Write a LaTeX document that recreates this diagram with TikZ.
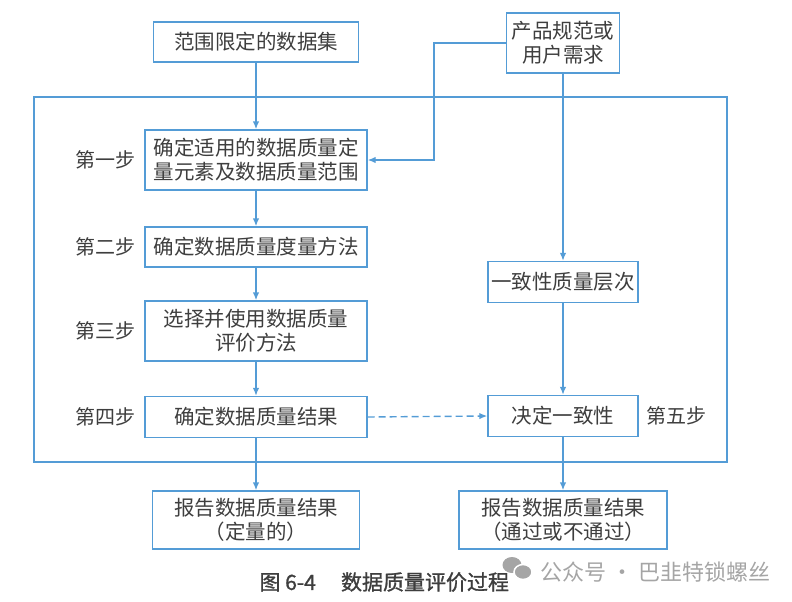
\documentclass[tikz,border=0pt]{standalone}
\usepackage{fontspec}
\newfontfamily\cjk{Noto Sans CJK SC}
\newfontfamily\cjkbold[FakeBold=1.2]{Noto Sans CJK SC}
\usepackage{tikz}
\usetikzlibrary{arrows.meta}
\definecolor{lineblue}{RGB}{84,156,214}
\definecolor{inkgray}{RGB}{62,62,62}
\definecolor{markgray}{RGB}{165,165,165}

\begin{document}
\begin{tikzpicture}[x=1pt,y=-1pt,
  box/.style={draw=lineblue,line width=1.4pt,fill=white,inner sep=0pt,align=center,text=inkgray,font=\cjk\fontsize{20.5}{24}\selectfont},
  steplabel/.style={text=inkgray,font=\cjk\fontsize{20}{24}\selectfont},
  link/.style={draw=lineblue,line width=1.4pt},
  flow/.style={link,-{Latex[length=8pt,width=6.5pt]}}]
\useasboundingbox (0,0) rectangle (792,602);
% boxes on the left
\node[box,minimum width=205pt,minimum height=40pt] (src) at (256,42) {范围限定的数据集};
\node[box,minimum width=222pt,minimum height=60pt] (s1) at (256,160) {确定适用的数据质量定\\量元素及数据质量范围};
\node[box,minimum width=222pt,minimum height=40pt] (s2) at (256,247) {确定数据质量度量方法};
\node[box,minimum width=222pt,minimum height=60pt] (s3) at (256,331) {选择并使用数据质量\\评价方法};
\node[box,minimum width=222pt,minimum height=41pt] (s4) at (256,417) {确定数据质量结果};
\node[box,minimum width=207pt,minimum height=58pt] (s5) at (256,520) {报告数据质量结果\\（定量的）};
% boxes on the right
\node[box,minimum width=113pt,minimum height=60pt] (spec) at (563,43) {产品规范或\\用户需求};
\node[box,minimum width=150pt,minimum height=41pt] (lvl) at (563,282) {一致性质量层次};
\node[box,minimum width=150pt,minimum height=41pt] (dec) at (563,416) {决定一致性};
\node[box,minimum width=208pt,minimum height=58pt] (pass) at (563,520) {报告数据质量结果\\（通过或不通过）};
% step labels
\node[steplabel] (l1) at (105,160) {第一步};
\node[steplabel] (l2) at (105,247) {第二步};
\node[steplabel] (l3) at (105,331) {第三步};
\node[steplabel] (l4) at (105,417) {第四步};
\node[steplabel] (l5) at (676,416) {第五步};
% frame
\draw[link] (34,97) rectangle (727,462);
% connectors
\coordinate (bend) at (434,160);
\draw[flow] (src) -- (s1);
\draw[flow] (spec.west) -| (bend) -- (s1.east);
\draw[flow] (s1) -- (s2);
\draw[flow] (s2) -- (s3);
\draw[flow] (s3) -- (s4);
\draw[flow] (s4) -- (s5);
\draw[flow] (spec) -- (lvl);
\draw[flow] (lvl) -- (dec);
\draw[flow] (dec) -- (pass);
\draw[flow,dash pattern=on 7pt off 4pt] (s4.east) -- (dec.west);
% caption and mark
\node[text=inkgray,font=\cjkbold\fontsize{21}{24}\selectfont,anchor=west] (cap) at (256,582) {图 6-4\hspace{1.2em}数据质量评价过程};
\fill[markgray] (512,565) ellipse (9.5pt and 8pt);
\draw[markgray,fill=markgray,draw=white,line width=1.5pt] (523,572) ellipse (9pt and 7.5pt);
\node[text=markgray,font=\cjk\fontsize{22}{24}\selectfont,anchor=west] (mark) at (537,572) {公众号 · 巴韭特锁螺丝};
\end{tikzpicture}
\end{document}
